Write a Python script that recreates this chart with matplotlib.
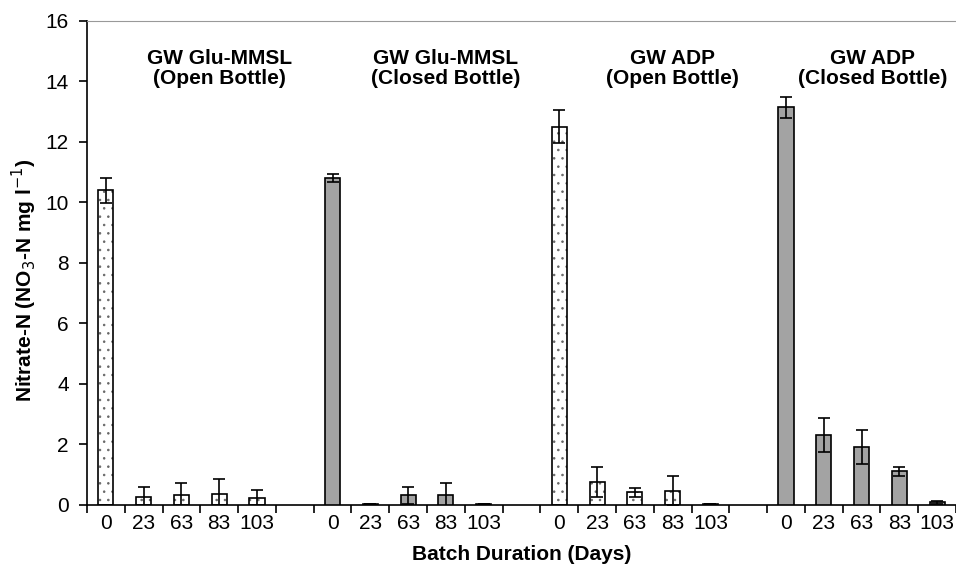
import matplotlib
matplotlib.use("Agg")
import matplotlib.pyplot as plt
import numpy as np

plt.rcParams['font.family'] = ['Liberation Sans', 'DejaVu Sans']
plt.rcParams['hatch.linewidth'] = 0.6

days = ["0", "23", "63", "83", "103"]
groups = ["GW Glu-MMSL\n(Open Bottle)", "GW Glu-MMSL\n(Closed Bottle)",
          "GW ADP\n(Open Bottle)", "GW ADP\n(Closed Bottle)"]
open_bottle = [True, False, True, False]
values = [
    [10.4, 0.25, 0.3, 0.35, 0.2],
    [10.8, 0.02, 0.3, 0.3, 0.02],
    [12.5, 0.75, 0.4, 0.45, 0.01],
    [13.15, 2.3, 1.9, 1.1, 0.07],
]
errors = [
    [0.42, 0.33, 0.4, 0.48, 0.28],
    [0.13, 0.0, 0.28, 0.42, 0.0],
    [0.55, 0.5, 0.15, 0.48, 0.0],
    [0.35, 0.55, 0.56, 0.15, 0.05],
]

W, H = 956, 564
fig = plt.figure(figsize=(W/100, H/100), dpi=100)
ax = fig.add_axes([87/W, (H-504.5)/H, (956-87)/W, (504.5-21)/H])

width = 0.4
xlabels = []
xpos = []
for g in range(4):
    pos = np.arange(5) + 6*g
    xpos.extend(pos)
    xlabels.extend(days)
    if open_bottle[g]:
        ax.bar(pos, values[g], width, facecolor='white', edgecolor='#666666',
               hatch='..', linewidth=0, zorder=2)
        ax.bar(pos, values[g], width, facecolor='none', edgecolor='black',
               linewidth=1.2, zorder=3)
    else:
        ax.bar(pos, values[g], width, facecolor='#a3a3a3', edgecolor='black',
               linewidth=1.2, zorder=3)
    ax.errorbar(pos, values[g], yerr=errors[g], fmt='none', ecolor='black',
                elinewidth=1.2, capsize=4, capthick=1.2, zorder=4)
    title_x = 6*g + 3.0 if g < 3 else 20.3
    ax.text(title_x, 14.42, groups[g], ha='center', va='center',
            fontsize=15, fontweight='bold', linespacing=1.05)

ax.set_xlim(-0.5, 22.5)
ax.set_ylim(0, 16)
ax.set_yticks(np.arange(0, 17, 2))
ax.set_xticks(xpos)
ax.set_xticklabels(xlabels, fontsize=15)
ax.tick_params(axis='x', length=0, pad=7)
ax.set_xticks(np.arange(-0.5, 22.6, 1), minor=True)
ax.tick_params(axis='x', which='minor', length=6, width=1.2, direction='out')
ax.tick_params(axis='y', labelsize=15, length=6, width=1.2, direction='out', pad=7)

ax.spines['right'].set_visible(False)
ax.spines['top'].set_color('#999999')
ax.spines['left'].set_linewidth(1.2)
ax.spines['bottom'].set_linewidth(1.2)

ax.set_ylabel('Nitrate-N (NO$_3$-N mg l$^{-1}$)', fontsize=15, fontweight='bold',
              va='center', ha='center')
ax.yaxis.set_label_coords(-0.0725, 0.464)
ax.set_xlabel('Batch Duration (Days)', fontsize=15, fontweight='bold',
              va='center', ha='center')
ax.xaxis.set_label_coords(0.5, -0.104)

fig.savefig('out.png', dpi=100)
